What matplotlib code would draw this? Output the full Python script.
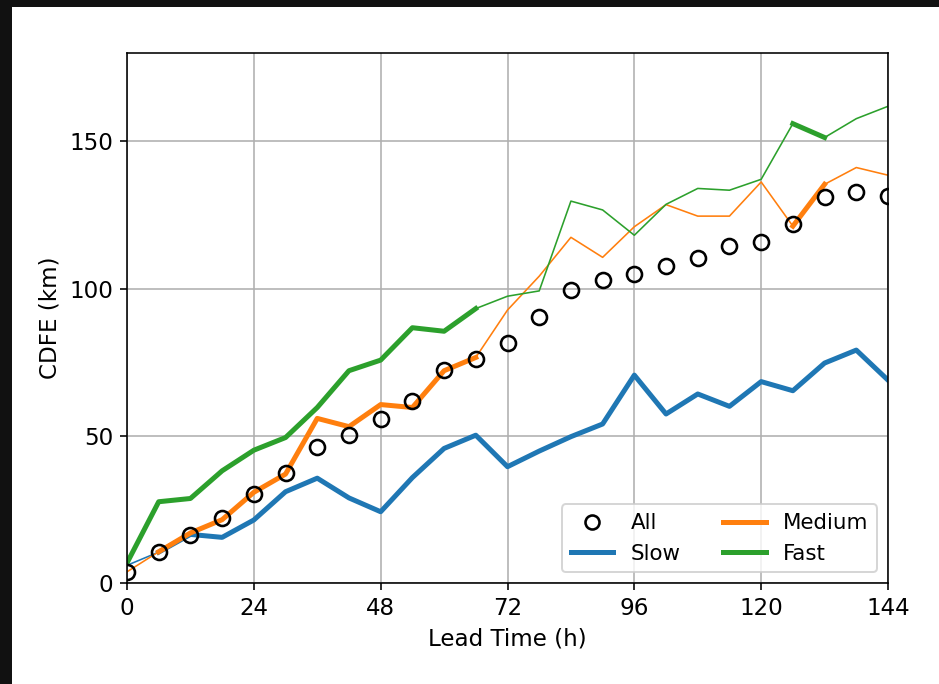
import numpy as np
import matplotlib
matplotlib.use("Agg")
import matplotlib.pyplot as plt
from matplotlib.lines import Line2D
from matplotlib.patches import Rectangle

plt.rcParams["font.size"] = 11.5

# lead times (h)
lead = np.arange(0, 145, 6)

cdfe_all = [3.7, 10.5, 16.3, 22.0, 30.2, 37.3, 46.2, 50.2, 55.7, 61.8, 72.3, 76.0, 81.5,
            90.3, 99.5, 102.8, 104.9, 107.6, 110.3, 114.4, 115.7, 121.9, 131.0, 132.7, 131.4]
cdfe_slow = [6.0, 10.5, 16.5, 15.5, 21.4, 31.0, 35.6, 28.9, 24.2, 35.8, 45.7, 50.2, 39.5,
             44.8, 49.7, 54.0, 70.6, 57.4, 64.2, 60.0, 68.4, 65.3, 74.7, 79.1, 68.9]
cdfe_medium = [3.8, 10.6, 17.0, 21.5, 30.8, 37.0, 55.9, 53.1, 60.6, 59.6, 72.1, 76.6, 92.7,
               104.2, 117.4, 110.6, 121.0, 128.5, 124.6, 124.6, 136.2, 121.2, 135.4, 141.1, 138.5]
cdfe_fast = [6.8, 27.6, 28.7, 38.1, 45.1, 49.4, 59.6, 72.1, 75.7, 86.7, 85.5, 93.2, 97.4,
             99.2, 129.7, 126.7, 118.1, 128.6, 134.0, 133.4, 137.1, 156.0, 151.3, 157.7, 161.9]

# points drawn with the heavy line
sig_slow = [0] + [1] * 24
sig_medium = [0] + [1] * 11 + [0] * 9 + [1, 1] + [0, 0]
sig_fast = [1] * 12 + [0] * 9 + [1, 1] + [0, 0]

series = [("Slow", cdfe_slow, sig_slow, "tab:blue"),
          ("Medium", cdfe_medium, sig_medium, "tab:orange"),
          ("Fast", cdfe_fast, sig_fast, "tab:green")]

fig = plt.figure(figsize=(939 / 144, 684 / 144), dpi=144)
ax = fig.add_axes([127 / 939, 1 - 583 / 684, (888 - 127) / 939, (583 - 53) / 684])

for name, vals, sig, col in series:
    vals = np.array(vals, dtype=float)
    heavy = np.where(np.array(sig) == 1, vals, np.nan)
    ax.plot(lead, vals, color=col, lw=0.8)
    ax.plot(lead, heavy, color=col, lw=2.5)

ax.plot(lead, cdfe_all, "o", mfc="none", mec="k", ms=7.5, mew=1.3, zorder=5)

ax.set_xlim(0, 144)
ax.set_ylim(0, 180)
ax.set_xticks(np.arange(0, 145, 24))
ax.set_yticks([0, 50, 100, 150])
ax.grid(True)
ax.set_xlabel("Lead Time (h)")
ax.set_ylabel("CDFE (km)")

handles = [Line2D([], [], ls="none", marker="o", mfc="none", mec="k", ms=7, mew=1.3, label="All"),
           Line2D([], [], color="tab:blue", lw=2.5, label="Slow"),
           Line2D([], [], color="tab:orange", lw=2.5, label="Medium"),
           Line2D([], [], color="tab:green", lw=2.5, label="Fast")]
ax.legend(handles=handles, loc="lower right", ncol=2, fontsize=10.7)

# dark screenshot frame
fig.patches.append(Rectangle((0, 1 - 6 / 684), 1, 6 / 684, transform=fig.transFigure,
                             color="#111111", zorder=10))
fig.patches.append(Rectangle((0, 0), 11 / 939, 1, transform=fig.transFigure,
                             color="#111111", zorder=10))

fig.savefig("out.png", dpi=144)
